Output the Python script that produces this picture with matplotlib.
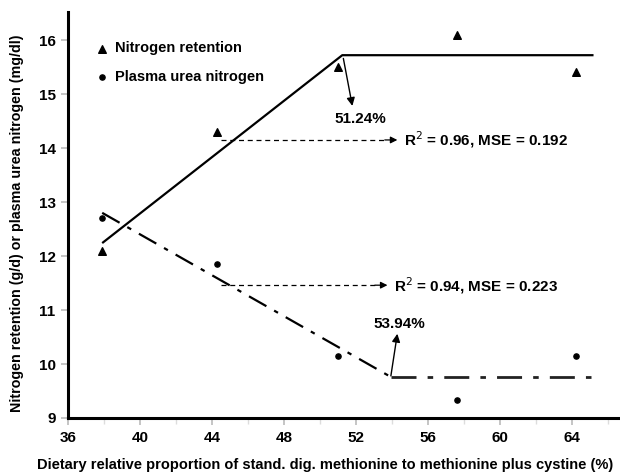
import matplotlib
matplotlib.use("Agg")
import matplotlib.pyplot as plt
from matplotlib.ticker import MultipleLocator

# ---- data ----
x_levels = [37.9, 44.3, 51.0, 57.6, 64.2]
nitrogen_retention = [12.1, 14.3, 15.5, 16.1, 15.4]
plasma_urea = [12.7, 11.85, 10.15, 9.33, 10.15]

# broken-line fits
nr_fit_x = [37.9, 51.24, 65.2]
nr_fit_y = [12.24, 15.72, 15.72]
pun_fit_x_slope = [37.9, 53.94]
pun_fit_y_slope = [12.8, 9.76]
pun_fit_x_plateau = [53.94, 65.4]
pun_fit_y_plateau = [9.76, 9.76]

x_ticks = [36, 40, 44, 48, 52, 56, 60, 64]
y_ticks = [9, 10, 11, 12, 13, 14, 15, 16]

plt.rcParams['font.family'] = ['Liberation Sans', 'DejaVu Sans']

fig = plt.figure(figsize=(6.2, 4.75), dpi=100)
ax = fig.add_axes([68/620, 57/475, 550/620, 406/475])

# fitted lines
ax.plot(nr_fit_x, nr_fit_y, color='black', lw=1.6, solid_capstyle='butt')
ax.plot(pun_fit_x_slope, pun_fit_y_slope, color='black', lw=1.6,
        linestyle=(0, (9, 4, 2, 4)))
ax.plot(pun_fit_x_plateau, pun_fit_y_plateau, color='#222222', lw=2.0,
        linestyle=(0, (9, 4, 2, 4)))

# points
ax.scatter(x_levels, nitrogen_retention, marker='^', s=30, color='black',
           label='Nitrogen retention', zorder=3)
ax.scatter(x_levels, plasma_urea, marker='o', s=14, color='black',
           label='Plasma urea nitrogen', zorder=3)

# annotations
bold = dict(fontweight='bold', fontsize=11)
# breakpoint arrows
ax.annotate('', xy=(51.8, 14.78), xytext=(51.3, 15.66),
            arrowprops=dict(arrowstyle='-|>', color='black', lw=1.0,
                            mutation_scale=12, shrinkA=0, shrinkB=0))
ax.text(52.25, 14.53, '51.24%', ha='center', va='center', **bold)
ax.annotate('', xy=(54.3, 10.56), xytext=(53.94, 9.78),
            arrowprops=dict(arrowstyle='-|>', color='black', lw=1.0,
                            mutation_scale=12, shrinkA=0, shrinkB=0))
ax.text(54.4, 10.74, '53.94%', ha='center', va='center', **bold)

# dashed arrows to fit statistics
for y, x0, x1, label in [(14.15, 44.5, 54.3, 'R$^2$ = 0.96, MSE = 0.192'),
                         (11.46, 44.5, 53.75, 'R$^2$ = 0.94, MSE = 0.223')]:
    ax.plot([x0, x1 - 0.6], [y, y], color='black', lw=0.9, linestyle=(0, (4, 3)))
    ax.annotate('', xy=(x1, y), xytext=(x1 - 0.7, y),
                arrowprops=dict(arrowstyle='-|>', color='black', lw=0.9,
                                mutation_scale=10, shrinkA=0, shrinkB=0))
    ax.text(x1 + 0.35, y, label, ha='left', va='center', **bold)

# axes styling
ax.set_xlim(36, 66.56)
ax.set_ylim(9, 16.52)
ax.set_xticks(x_ticks)
ax.set_yticks(y_ticks)
ax.xaxis.set_minor_locator(MultipleLocator(2))
for s in ['top', 'right']:
    ax.spines[s].set_visible(False)
for s in ['left', 'bottom']:
    ax.spines[s].set_linewidth(2.2)
ax.tick_params(axis='both', which='major', length=5, width=1.2, color='#bbbbbb',
               labelsize=11, pad=4)
ax.tick_params(axis='x', which='minor', length=4, width=1.0, color='#dddddd')
for lab in ax.get_xticklabels() + ax.get_yticklabels():
    lab.set_fontweight('bold')

ax.set_xlabel('Dietary relative proportion of stand. dig. methionine to methionine plus cystine (%)',
              fontsize=10.5, fontweight='bold')
ax.xaxis.set_label_coords(0.467, -0.098)
ax.set_ylabel('Nitrogen retention (g/d) or plasma urea nitrogen (mg/dl)',
              fontsize=10.3, fontweight='bold')
ax.yaxis.set_label_coords(-0.08, 0.48)

leg = ax.legend(loc='upper left', bbox_to_anchor=(0.025, 0.96), frameon=False,
                fontsize=10.5, handletextpad=0.4, labelspacing=1.0,
                handlelength=1.0, scatterpoints=1)
for t in leg.get_texts():
    t.set_fontweight('bold')

fig.savefig('out.png', dpi=100, facecolor='white')
